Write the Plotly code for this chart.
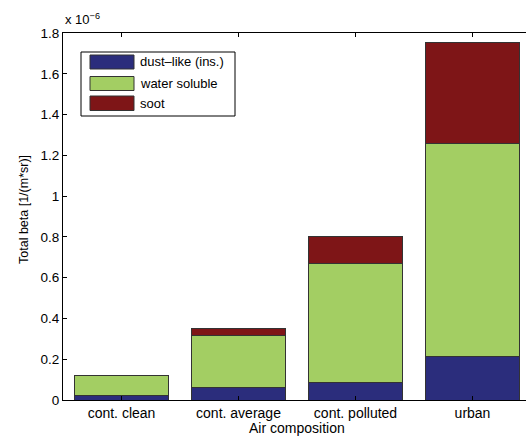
import plotly.graph_objects as go

categories = ["cont. clean", "cont. average", "cont. polluted", "urban"]
positions = [1, 2, 3, 4]
dust = [0.020e-6, 0.060e-6, 0.085e-6, 0.212e-6]
water = [0.098e-6, 0.255e-6, 0.585e-6, 1.045e-6]
soot = [0.0, 0.034e-6, 0.130e-6, 0.494e-6]
series_names = ["dust\u2013like (ins.)", "water soluble", "soot"]
colors = ["#2b2d7c", "#a3ce63", "#7e1517"]
yticks = [0, 0.2e-6, 0.4e-6, 0.6e-6, 0.8e-6, 1.0e-6, 1.2e-6, 1.4e-6, 1.6e-6, 1.8e-6]
yticklabels = ["0", "0.2", "0.4", "0.6", "0.8", "1", "1.2", "1.4", "1.6", "1.8"]

W, H = 526, 436
L, R, T, B = 63, 0, 33, 36
FONT = "Liberation Sans, Arial, Helvetica, sans-serif"

fig = go.Figure()
for name, vals, col in zip(series_names, [dust, water, soot], colors):
    fig.add_trace(go.Bar(
        x=positions, y=vals, name=name, width=0.8,
        marker=dict(color=col, line=dict(color="#333333", width=1)),
        showlegend=False, hoverinfo="skip",
    ))

pw = W - L - R
ph = H - T - B
def px_x(p):
    return (p - L) / pw
def px_y(p):
    return (H - B - p) / ph

shapes = []
annotations = []
# legend box
shapes.append(dict(type="rect", xref="paper", yref="paper",
                   x0=px_x(81), x1=px_x(235), y0=px_y(116), y1=px_y(52),
                   line=dict(color="black", width=1), fillcolor="white", layer="above"))
sw_y = [(55, 69), (76.5, 90.5), (96, 110.5)]
for (y0, y1), col, name in zip(sw_y, colors, series_names):
    shapes.append(dict(type="rect", xref="paper", yref="paper",
                       x0=px_x(90), x1=px_x(134), y0=px_y(y1), y1=px_y(y0),
                       line=dict(color="#333333", width=1), fillcolor=col, layer="above"))
    annotations.append(dict(xref="paper", yref="paper", x=px_x(138), y=px_y((y0 + y1) / 2),
                            text=name, showarrow=False, xanchor="left", yanchor="middle",
                            font=dict(size=13, color="black", family=FONT)))

annotations.append(dict(xref="paper", yref="paper", x=0, y=1, xanchor="left", yanchor="bottom",
                        yshift=4, text="x 10<sup>\u22126</sup>", showarrow=False,
                        font=dict(size=13, color="black", family=FONT)))
# axis titles
annotations.append(dict(xref="paper", yref="paper", x=px_x(297), y=px_y(428),
                        xanchor="center", yanchor="middle", text="Air composition",
                        showarrow=False, font=dict(size=14, color="black", family=FONT)))
annotations.append(dict(xref="paper", yref="paper", x=px_x(24), y=px_y(210),
                        xanchor="center", yanchor="middle", text="Total beta [1/(m*sr)]",
                        textangle=-90, showarrow=False,
                        font=dict(size=12.5, color="black", family=FONT)))

fig.update_layout(
    width=W, height=H,
    margin=dict(l=L, r=R, t=T, b=B, pad=0),
    paper_bgcolor="white", plot_bgcolor="white",
    barmode="stack", bargap=0.2,
    font=dict(family=FONT, size=13, color="black"),
    shapes=shapes, annotations=annotations,
    xaxis=dict(range=[0.5, 0.5 + pw / 117.0], tickvals=positions, ticktext=categories,
               showline=True, linecolor="black", linewidth=1, mirror="ticks",
               ticks="inside", ticklen=4, tickcolor="black", showgrid=False, zeroline=False,
               automargin=False, tickfont=dict(size=14)),
    yaxis=dict(range=[0, 1.8e-6], tickvals=yticks, ticktext=yticklabels,
               showline=True, linecolor="black", linewidth=1,
               ticks="inside", ticklen=4, tickcolor="black", showgrid=False, zeroline=False,
               automargin=False, tickfont=dict(size=13.5)),
)

fig.write_html("out.html", config={"displayModeBar": False, "staticPlot": True},
               post_script="document.body.style.margin='0';document.body.style.overflow='hidden';")
